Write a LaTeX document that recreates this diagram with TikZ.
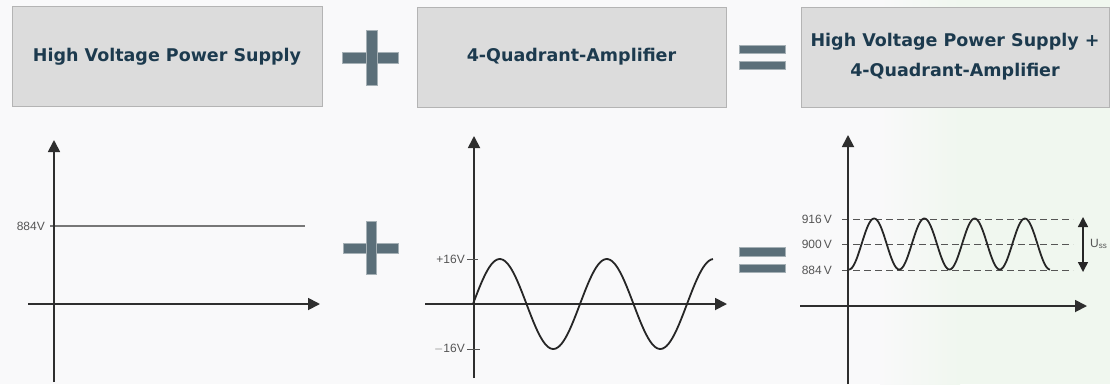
\documentclass[tikz,border=0pt]{standalone}
\usepackage{fontspec}
\setmainfont{DejaVu Sans}
\newfontfamily\labfont{Liberation Sans}
\usetikzlibrary{arrows.meta,positioning}
\definecolor{boxgray}{HTML}{DCDCDC}
\definecolor{boxline}{HTML}{B4B4B4}
\definecolor{titleblue}{HTML}{1C3A4E}
\definecolor{signgray}{HTML}{5B6F79}
\definecolor{axisgray}{HTML}{2E2E2E}
\definecolor{labgray}{HTML}{555555}
\definecolor{bgwhite}{HTML}{F9F9FA}
\definecolor{bggreen}{HTML}{F0F7EF}

\begin{document}
\begin{tikzpicture}[
  x=1pt, y=-1pt,
  title/.style={draw=boxline, fill=boxgray, line width=0.8pt, align=center,
    minimum height=100pt, inner sep=0pt, text=titleblue,
    font=\fontsize{17.5}{30}\selectfont\bfseries},
  sign/.style={fill=signgray, draw=signgray!55!white, line width=0.6pt},
  axis/.style={draw=axisgray, line width=1.8pt, -{Triangle[length=12pt,width=12pt]}},
  level/.style={draw=labgray!80, line width=1.8pt},
  wave/.style={draw=black!85, line width=1.8pt},
  guide/.style={draw=labgray, line width=0.9pt, dash pattern=on 7pt off 4pt},
  lab/.style={font=\labfont\fontsize{12}{12}\selectfont, text=labgray, inner sep=1pt}
]
% background
\fill[bgwhite] (0,0) rectangle (1110,384);
\shade[left color=bgwhite, right color=bggreen] (880,0) rectangle (960,384);
\fill[bggreen] (960,0) rectangle (1110,384);
\useasboundingbox (0,0) rectangle (1110,384);

% header boxes
\node[title, minimum width=310pt] (hv) at (167,56.5) {High Voltage Power Supply};
\node[title, minimum width=309pt] (amp) at (571.5,57) {4-Quadrant-Amplifier};
\node[title, minimum width=308pt] (sum) at (955,57) {High Voltage Power Supply +\\4-Quadrant-Amplifier};

% plus / equals signs
\fill[sign] (342,52) rectangle (398,63);
\fill[sign] (366,30) rectangle (377,85);
\fill[sign] (739,45) rectangle (785,53);
\fill[sign] (739,61) rectangle (785,69);
\fill[sign] (343,243) rectangle (398,253);
\fill[sign] (366,221) rectangle (376,274);
\fill[sign] (739,247) rectangle (785,256);
\fill[sign] (739,264) rectangle (785,272);

% graph 1: DC level
\coordinate (o1) at (54,304);
\draw[level] (50,226) -- (305,226);
\node[lab, anchor=east] (dc) at (46,226) {884V};
\draw[axis] (54,382) -- (54,140);
\draw[axis] (28,304) -- (320,304);

% graph 2: AC signal
\coordinate (o2) at (474,304);
\draw[axis] (474,378) -- (474,136);
\draw[axis] (425,304) -- (727,304);
\draw[wave] plot[domain=473:713, samples=120] (\x, {304 - 45*sin((\x-473)/107*360)});
\draw[labgray, line width=0.9pt] (467,259) -- (478,259);
\draw[labgray, line width=0.9pt] (467,349) -- (480,349);
\node[lab, anchor=east] (pos) at (466,259) {+16V};
\node[lab, anchor=east] (neg) at (466,349) {$-$16V};

% graph 3: sum
\coordinate (o3) at (848,306);
\draw[guide] (842,219) -- (1073,219);
\draw[guide] (842,244) -- (1073,244);
\draw[guide] (842,270) -- (1073,270);
\node[lab, anchor=east] (top) at (833,219) {916\,V};
\node[lab, anchor=east] (mid) at (833,244) {900\,V};
\node[lab, anchor=east] (low) at (833,270) {884\,V};
\draw[axis] (848,384) -- (848,135);
\draw[axis] (800,306) -- (1087,306);
\draw[wave] plot[domain=849:1050, samples=200] (\x, {244 + 25.5*cos((\x-849)/50.25*360)});
\coordinate (uhi) at (1083,217);
\coordinate (ulo) at (1083,272);
\draw[draw=black!85, line width=1.5pt, {Triangle[length=10pt,width=10pt]}-{Triangle[length=10pt,width=10pt]}] (uhi) -- (ulo);
\node[lab, anchor=west] (uss) at (1089,244) {U\textsubscript{ss}};
\end{tikzpicture}
\end{document}
